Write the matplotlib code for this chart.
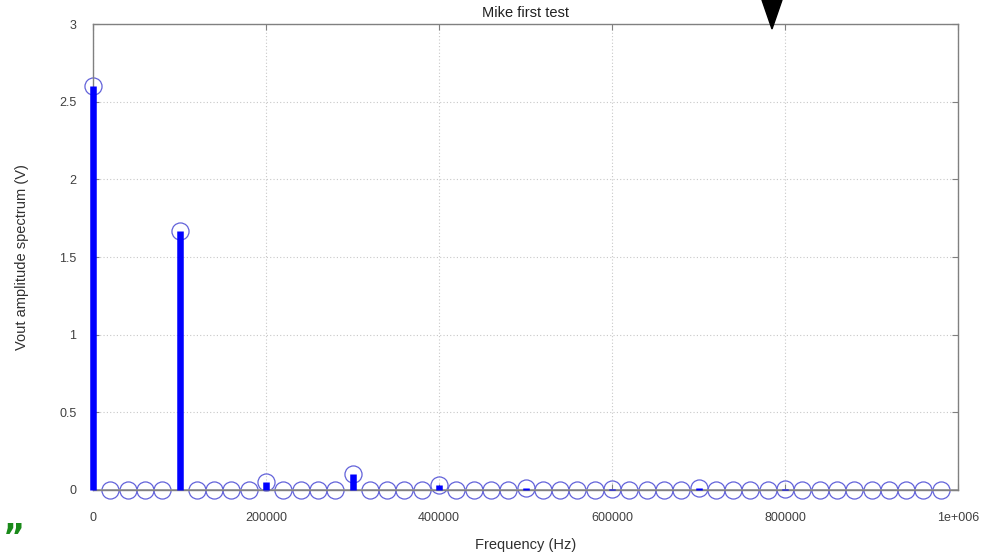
import matplotlib
matplotlib.use("Agg")
import matplotlib.pyplot as plt
import numpy as np
from matplotlib.patches import Polygon

plt.rcParams['font.family'] = ['Liberation Sans', 'DejaVu Sans']

# Spectrum bins: 50 points spaced 20 kHz apart
step_hz = 20000
n_bins = 50
freqs = [i * step_hz for i in range(n_bins)]

# Non-zero harmonic amplitudes (V); every other bin is zero
harmonic_freqs = [0, 100000, 200000, 300000, 400000, 500000, 600000, 700000, 800000]
harmonic_amps = [2.6, 1.665, 0.05, 0.1, 0.03, 0.01, 0.005, 0.01, 0.005]

amps = [0.0] * n_bins
for f, a in zip(harmonic_freqs, harmonic_amps):
    amps[freqs.index(f)] = a

xticks = [0, 200000, 400000, 600000, 800000, 1000000]
xtick_labels = ["0", "200000", "400000", "600000", "800000", "1e+006"]
yticks = [0, 0.5, 1, 1.5, 2, 2.5, 3]
ytick_labels = ["0", "0.5", "1", "1.5", "2", "2.5", "3"]

fig = plt.figure(figsize=(9.86, 5.57), dpi=100)
ax = fig.add_axes([93 / 986, 1 - 490 / 557, (958 - 93) / 986, (490 - 24) / 557])

ax.set_xlim(0, 1000000)
ax.set_ylim(0, 3)

# grid
ax.grid(True, linestyle=(0, (1, 2)), color="#c8c8c8", linewidth=0.8)
ax.set_axisbelow(True)

# baseline
ax.axhline(0, color="#909090", linewidth=1.2, zorder=3)

# circles at every bin
ax.plot(freqs, amps, linestyle="none", marker="o", markersize=12.3,
        markerfacecolor="none", markeredgecolor="#6262da",
        markeredgewidth=0.9, zorder=2, clip_on=False)

# thick stems
ax.vlines(freqs, 0, amps, colors="#0000ff", linewidth=4.7, zorder=4,
          clip_on=False)

ax.set_xticks(xticks)
ax.set_xticklabels(xtick_labels)
ax.set_yticks(yticks)
ax.set_yticklabels(ytick_labels)

ax.tick_params(axis="both", direction="in", length=4, color="#808080",
               labelcolor="#404040", labelsize=9, top=True, right=True)
ax.tick_params(axis="x", pad=16)
ax.tick_params(axis="y", pad=12)

for s in ax.spines.values():
    s.set_color("#808080")
    s.set_linewidth(1.0)

ax.set_title("Mike first test", fontsize=10.5, color="#202020", pad=5)
ax.set_xlabel("Frequency (Hz)", fontsize=10.5, color="#303030", labelpad=10)
ax.set_ylabel("Vout amplitude spectrum (V)", fontsize=10.5, color="#303030",
              labelpad=22)

# cursor marker pointing at the top of the frame
tri = Polygon([[762 / 986, 1.0], [782 / 986, 1.0], [772 / 986, 1 - 29 / 557]],
              closed=True, transform=fig.transFigure, facecolor="black",
              edgecolor="black", zorder=10)
fig.patches.append(tri)

# green quote mark in lower-left corner
fig.text(3 / 986, 1 - 555 / 557, "\u201d", color="#1a8a1a", fontsize=24,
         fontweight="bold", ha="left", va="bottom", family="DejaVu Sans")

fig.savefig("out.png", dpi=100)
